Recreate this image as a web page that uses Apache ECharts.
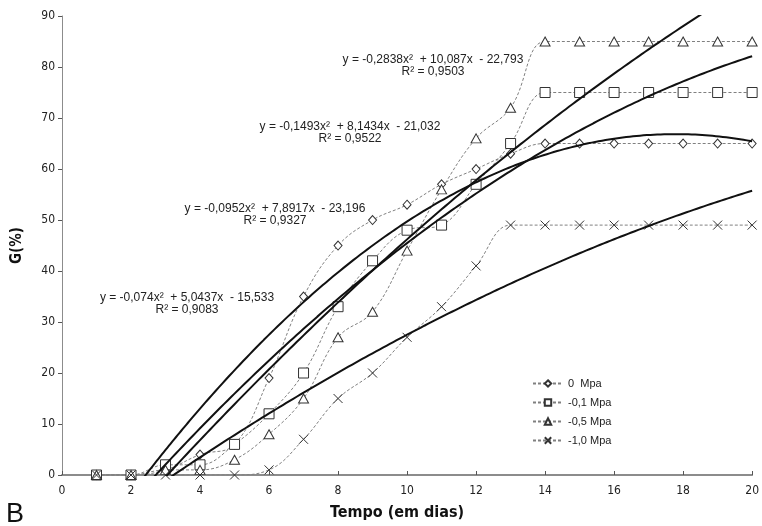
<!DOCTYPE html>
<html>
<head>
<meta charset="utf-8">
<script src="https://cdn.jsdelivr.net/npm/echarts@6/dist/echarts.min.js"></script>
<style>
  html, body { margin: 0; padding: 0; background: #fff; }
  #chart { width: 762px; height: 526px; }
</style>
</head>
<body>
<div id="chart"></div>
<script>
// dias de observação
const days = [1, 2, 3, 4, 5, 6, 7, 8, 9, 10, 11, 12, 13, 14, 15, 16, 17, 18, 19, 20];

// germinação (%) por potencial osmótico
const g0Mpa = [0, 0, 1, 4, 6, 19, 35, 45, 50, 53, 57, 60, 63, 65, 65, 65, 65, 65, 65, 65];
const g01Mpa = [0, 0, 2, 2, 6, 12, 20, 33, 42, 48, 49, 57, 65, 75, 75, 75, 75, 75, 75, 75];
const g05Mpa = [0, 0, 1, 1, 3, 8, 15, 27, 32, 44, 56, 66, 72, 85, 85, 85, 85, 85, 85, 85];
const g10Mpa = [0, 0, 0, 0, 0, 1, 7, 15, 20, 27, 33, 41, 49, 49, 49, 49, 49, 49, 49, 49];

const seriesNames = ["0  Mpa", "-0,1 Mpa", "-0,5 Mpa", "-1,0 Mpa"];

// coeficientes das linhas de tendência (a, b, c) como impressos no gráfico
const fit0 = [-0.2838, 10.087, -22.793];
const fit01 = [-0.1493, 8.1434, -21.032];
const fit05 = [-0.0952, 7.8917, -23.196];
const fit10 = [-0.074, 5.0437, -15.533];

const eqTexts = [
  "y = -0,2838x²  + 10,087x  - 22,793\nR² = 0,9503",
  "y = -0,1493x²  + 8,1434x  - 21,032\nR² = 0,9522",
  "y = -0,0952x²  + 7,8917x  - 23,196\nR² = 0,9327",
  "y = -0,074x²  + 5,0437x  - 15,533\nR² = 0,9083",
];

const narrow = "'Liberation Sans Narrow', 'DejaVu Sans Condensed', Arial, sans-serif";
const sans = "'Liberation Sans', Arial, sans-serif";

function pairs(ys) {
  return days.map((d, i) => [d, ys[i]]);
}

function trend(c) {
  const pts = [];
  for (let i = 0; i <= 380; i++) {
    const x = 1 + i * 0.05;
    pts.push([x, c[0] * x * x + c[1] * x + c[2]]);
  }
  return pts;
}

const crossPath = "path://M0,0L10,10M10,0L0,10";

function dataSeries(name, ys, symbol, size) {
  return {
    name: name,
    type: "line",
    data: pairs(ys),
    smooth: 0.4,
    symbol: symbol,
    symbolSize: size,
    showSymbol: true,
    z: 3,
    lineStyle: { color: "#808080", width: 1, type: [3, 2] },
    itemStyle: { color: "#ffffff", borderColor: "#333333", borderWidth: 1 },
    emphasis: { disabled: true },
  };
}

function trendSeries(c) {
  return {
    type: "line",
    data: trend(c),
    showSymbol: false,
    symbol: "none",
    clip: true,
    z: 4,
    lineStyle: { color: "#111111", width: 2 },
    emphasis: { disabled: true },
    silent: true,
  };
}

// centro horizontal e topo de cada rótulo de equação
const eqPos = [[433, 54], [350, 121], [275, 203], [187, 292]];

const option = {
  animation: false,
  backgroundColor: "#ffffff",
  grid: { left: 62, right: 9, top: 16, bottom: 49, containLabel: false },
  legend: {
    data: seriesNames,
    orient: "vertical",
    left: 527,
    top: 373,
    itemWidth: 30,
    itemHeight: 8,
    itemGap: 8,
    textStyle: { fontFamily: sans, fontSize: 11, color: "#222" },
  },
  xAxis: {
    type: "value",
    min: 0,
    max: 20,
    interval: 2,
    name: "Tempo (em dias)",
    nameLocation: "center",
    nameGap: 30,
    nameTextStyle: { fontFamily: narrow, fontSize: 16, fontWeight: "bold", color: "#111", padding: [0, 20, 0, 0] },
    axisLine: { lineStyle: { color: "#8c8c8c", width: 2 } },
    axisTick: { show: true, inside: true, length: 4, lineStyle: { color: "#555" } },
    axisLabel: { fontFamily: narrow, fontSize: 12, color: "#222", margin: 10 },
    splitLine: { show: false },
  },
  yAxis: {
    type: "value",
    min: 0,
    max: 90,
    interval: 10,
    name: "G(%)",
    nameLocation: "center",
    nameGap: 37,
    nameRotate: 90,
    nameTextStyle: { fontFamily: narrow, fontSize: 15, fontWeight: "bold", color: "#111" },
    axisLine: { show: true, lineStyle: { color: "#8c8c8c", width: 1 } },
    axisTick: { show: true, inside: false, length: 4, lineStyle: { color: "#555" } },
    axisLabel: { fontFamily: narrow, fontSize: 12, color: "#222", margin: 7 },
    splitLine: { show: false },
  },
  series: [
    dataSeries(seriesNames[0], g0Mpa, "diamond", [8, 9]),
    dataSeries(seriesNames[1], g01Mpa, "rect", 10),
    dataSeries(seriesNames[2], g05Mpa, "triangle", [10, 9]),
    dataSeries(seriesNames[3], g10Mpa, crossPath, 9),
    trendSeries(fit0),
    trendSeries(fit01),
    trendSeries(fit05),
    trendSeries(fit10),
  ],
  graphic: eqTexts.map((t, i) => ({
    type: "text",
    x: eqPos[i][0],
    y: eqPos[i][1],
    z: 10,
    style: {
      text: t,
      align: "center",
      verticalAlign: "top",
      fontFamily: sans,
      fontSize: 12,
      lineHeight: 12,
      fill: "#222",
    },
  })).concat([{
    type: "text",
    left: 6,
    top: 501,
    style: { text: "B", fontFamily: sans, fontSize: 27, fill: "#111" },
  }]),
};

const chart = echarts.init(document.getElementById("chart"));
chart.setOption(option);
</script>
</body>
</html>
